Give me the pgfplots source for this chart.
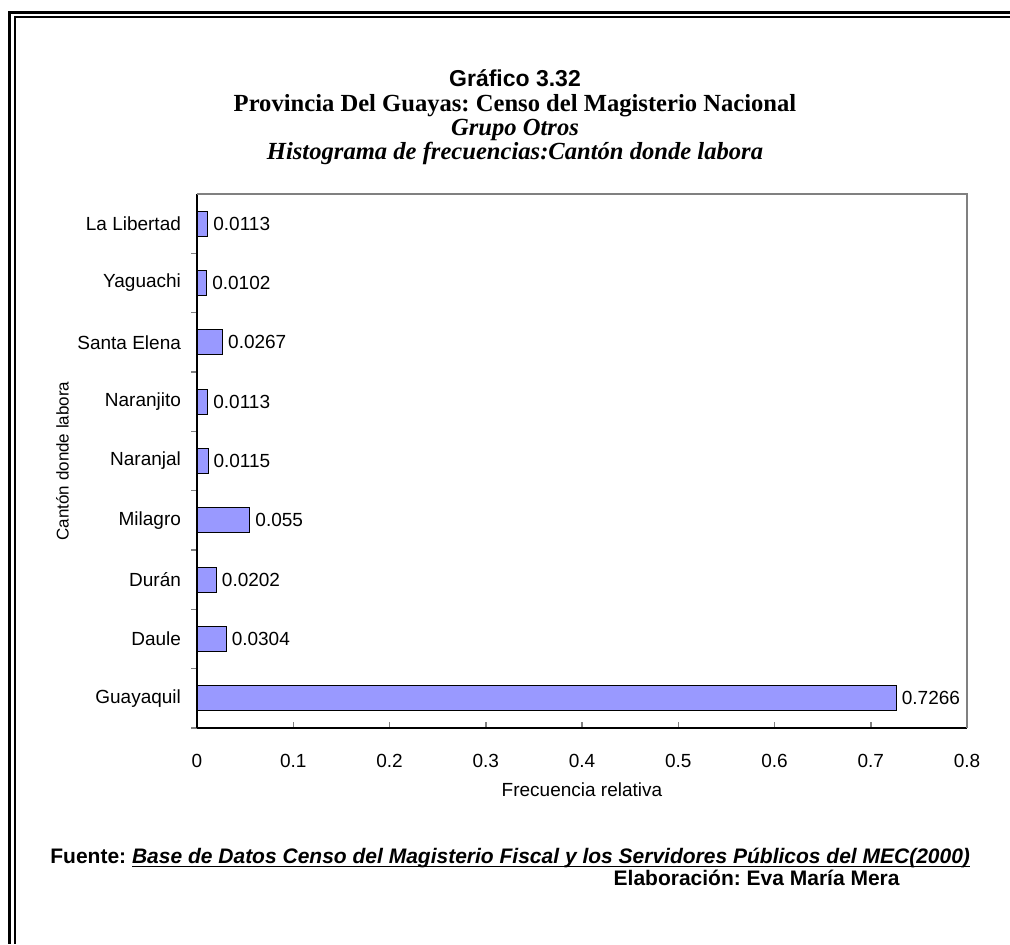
\documentclass[border=0pt]{standalone}
\usepackage{pgfplots}
\pgfplotsset{compat=1.18}
\usepackage{fontspec}
\setmainfont{Liberation Sans}
\newfontfamily\timesf{Liberation Serif}
\definecolor{barblue}{HTML}{9999FF}
\definecolor{framegray}{HTML}{808080}
\frenchspacing
\begin{document}
\begin{tikzpicture}
\useasboundingbox (0,0) rectangle (505pt,-472pt);
% double frame (top and left)
\draw[line width=1.5pt] (505pt,-6pt) -- (4.75pt,-6pt) -- (4.75pt,-472pt);
\draw[line width=0.75pt] (505pt,-8.6pt) -- (7.5pt,-8.6pt) -- (7.5pt,-472pt);
% titles
\node[anchor=base, inner sep=0pt, font=\bfseries\fontsize{11.5}{13}\selectfont] at (257.5pt,-43pt) {Gráfico 3.32};
\node[anchor=base, inner sep=0pt, font=\timesf\bfseries\fontsize{12.3}{14}\selectfont] at (257.5pt,-55.5pt) {Provincia Del Guayas: Censo del Magisterio Nacional};
\node[anchor=base, inner sep=0pt, font=\timesf\bfseries\itshape\fontsize{12.3}{14}\selectfont] at (257.5pt,-67.5pt) {Grupo Otros};
\node[anchor=base, inner sep=0pt, font=\timesf\bfseries\itshape\fontsize{12.3}{14}\selectfont] at (257.5pt,-79.5pt) {Histograma de frecuencias:Cantón donde labora};
% footer
\node[anchor=base west, inner sep=0pt, font=\bfseries\fontsize{10.5}{12}\selectfont] at (25pt,-431.75pt) {Fuente: \underline{\smash{\itshape Base de Datos Censo del Magisterio Fiscal y los Servidores Públicos del MEC(2000)}}};
\node[anchor=base east, inner sep=0pt, font=\bfseries\fontsize{10.5}{12}\selectfont] at (450pt,-442.75pt) {Elaboración: Eva María Mera};

\begin{axis}[
    at={(98.5pt,-364pt)}, anchor=south west,
    scale only axis, width=385pt, height=267pt,
    xbar, bar width=12.5pt,
    xmin=0, xmax=0.8, ymin=-0.5, ymax=8.5,
    clip=false,
    axis x line*=bottom, axis y line*=left,
    axis line style={-, black, line width=0.75pt},
    xtick pos=left, ytick pos=left,
    tick align=outside,
    xtick={0,0.1,0.2,0.3,0.4,0.5,0.6,0.7,0.8},
    xticklabels={0,0.1,0.2,0.3,0.4,0.5,0.6,0.7,0.8},
    xtick style={yshift=3pt},
    ytick={-0.5,0.5,1.5,2.5,3.5,4.5,5.5,6.5,7.5},
    yticklabels={},
    extra y ticks={0,1,2,3,4,5,6,7,8},
    extra y tick labels={Guayaquil,Daule,Durán,Milagro,Naranjal,Naranjito,Santa Elena,Yaguachi,La Libertad},
    extra y tick style={draw opacity=0},
    major tick length=3pt,
    tick style={line width=0.75pt},
    ticklabel style={font=\fontsize{9.5}{11}\selectfont},
    xticklabel style={yshift=-6.5pt},
    yticklabel style={xshift=-1.5pt},
    every axis x label/.style={at={(axis description cs:0.5,0)}, anchor=center, yshift=-31pt, font=\fontsize{9.5}{11}\selectfont},
    every axis y label/.style={at={(axis description cs:-0.1747,0.5)}, rotate=90, anchor=center, font=\fontsize{8.5}{10}\selectfont},
    xlabel={Frecuencia relativa},
    ylabel={Cantón donde labora},
    nodes near coords,
    nodes near coords align=horizontal,
    point meta=explicit symbolic,
    every node near coord/.append style={anchor=west, font=\fontsize{9.5}{11}\selectfont, inner sep=2.5pt, black},
]
\addplot[fill=barblue, draw=black, line width=0.5pt] coordinates {
    (0.7266,0) [0.7266]
    (0.0304,1) [0.0304]
    (0.0202,2) [0.0202]
    (0.055,3) [0.055]
    (0.0115,4) [0.0115]
    (0.0113,5) [0.0113]
    (0.0267,6) [0.0267]
    (0.0102,7) [0.0102]
    (0.0113,8) [0.0113]
};
\draw[framegray, line width=0.75pt] (rel axis cs:0,1) -- (rel axis cs:1,1) -- (rel axis cs:1,0);
\end{axis}
\end{tikzpicture}
\end{document}
